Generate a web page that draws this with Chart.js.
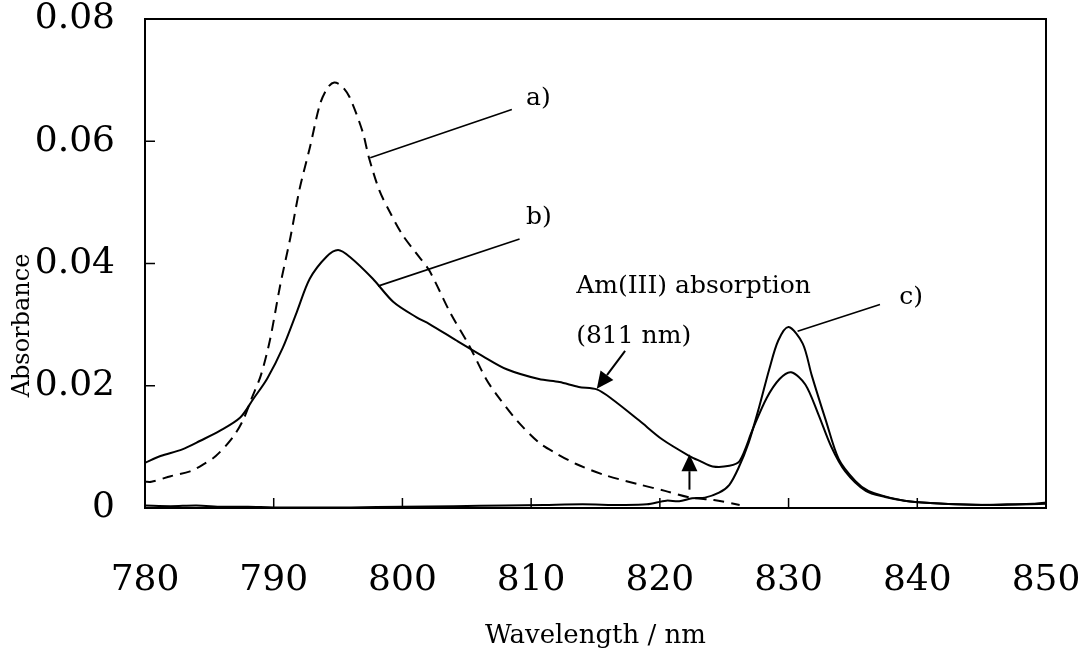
<!DOCTYPE html>
<html>
<head>
<meta charset="utf-8">
<script src="https://cdn.jsdelivr.net/npm/chart.js@4"></script>
<style>
  html, body { margin: 0; padding: 0; background: #fff; }
  #wrap { width: 1084px; height: 658px; }
</style>
</head>
<body>
<div id="wrap"><canvas id="chart" width="1084" height="658"></canvas></div>
<script>
// a) dashed spectrum
const wlA = [780, 780.5, 782, 783.5, 784.5, 785.5, 786.8, 787.6, 788.3, 789, 789.7, 790.5, 791.3, 792, 792.8, 793.6, 794.2, 794.7, 795.3, 795.9, 796.9, 797.4, 798.2, 799, 800, 801.1, 802.1, 803.7, 805.2, 806.5, 807.3, 808.9, 810.6, 811.8, 813.5, 815.7, 818.5, 820.4, 822.4, 824.2, 826.2];
const absA = [0.0043, 0.0043, 0.0052, 0.006, 0.0071, 0.0085, 0.0115, 0.0143, 0.018, 0.0217, 0.0274, 0.0364, 0.0443, 0.0521, 0.0589, 0.0661, 0.0688, 0.0696, 0.069, 0.0672, 0.0616, 0.0573, 0.052, 0.0485, 0.0447, 0.0416, 0.0388, 0.032, 0.0265, 0.0211, 0.0186, 0.0143, 0.0107, 0.0091, 0.0072, 0.0054, 0.0038, 0.0028, 0.0017, 0.0013, 0.0005];

// b) solid, broad band + 830 nm peak
const wlB = [780, 781.2, 782.9, 784.3, 785.8, 787.4, 788.4, 789.5, 790.7, 791.8, 792.8, 794.1, 795, 795.9, 797.7, 799.3, 801.1, 802.1, 804.2, 806.2, 808.1, 810.6, 812.2, 813.7, 815.1, 816.3, 818.4, 820.2, 822.3, 823.1, 824.1, 825.4, 826.2, 827.2, 828.3, 829.3, 830.2, 831.3, 832.3, 833.3, 834.4, 836, 837.5, 839, 841, 843, 846, 850];
const absB = [0.0074, 0.0085, 0.0096, 0.011, 0.0126, 0.0148, 0.0178, 0.0212, 0.0262, 0.0321, 0.0375, 0.0411, 0.0422, 0.0411, 0.0375, 0.0337, 0.0312, 0.0301, 0.0274, 0.0249, 0.0227, 0.0211, 0.0206, 0.0198, 0.0194, 0.0178, 0.0143, 0.0112, 0.0085, 0.0077, 0.0068, 0.0069, 0.0077, 0.0128, 0.018, 0.0211, 0.0222, 0.0202, 0.0154, 0.0101, 0.006, 0.0028, 0.0018, 0.0012, 0.0008, 0.0006, 0.0005, 0.0007];

// c) solid, near baseline + tall 830 nm peak
const wlC = [780, 782, 784, 786, 788, 790, 793, 796, 800, 804, 808, 811, 814, 817, 819, 820.5, 821.5, 822.5, 823.5, 824.6, 825.4, 826.1, 826.9, 827.7, 828.5, 829.2, 830, 831.1, 831.8, 832.9, 833.9, 835.2, 836.2, 837.5, 839, 841, 843, 845, 847, 849, 850];
const absC = [0.0004, 0.0003, 0.0004, 0.0002, 0.0002, 0.0001, 0.0001, 0.0001, 0.0002, 0.0003, 0.0004, 0.0005, 0.0006, 0.0005, 0.0006, 0.0012, 0.0011, 0.0016, 0.0017, 0.0025, 0.0038, 0.0065, 0.0107, 0.0164, 0.0227, 0.0274, 0.0296, 0.0269, 0.0217, 0.0143, 0.008, 0.0044, 0.0028, 0.0019, 0.0012, 0.0008, 0.0006, 0.0005, 0.0006, 0.0007, 0.0009];

const xTicks = [780, 790, 800, 810, 820, 830, 840, 850];
const yTicks = [0, 0.02, 0.04, 0.06, 0.08];

const serif = '"DejaVu Serif", serif';

function pts(xs, ys) {
  return xs.map((x, i) => ({ x: x, y: ys[i] }));
}

// labels and pointers, placed in data units
const leaders = [
  { text: 'a)', from: [797.5, 0.0573], to: [808.5, 0.0652], at: [809.6, 0.0670] },
  { text: 'b)', from: [798.1, 0.0363], to: [809.1, 0.0440], at: [809.6, 0.0475] },
  { text: 'c)', from: [830.7, 0.0289], to: [837.1, 0.0333], at: [838.6, 0.0345] }
];
const notes = [
  { text: 'Am(III) absorption', at: [813.5, 0.0362] },
  { text: '(811 nm)', at: [813.5, 0.0280] }
];
const arrows = [
  { from: [817.3, 0.0257], to: [815.1, 0.0195] },
  { from: [822.3, 0.0030], to: [822.3, 0.0088] }
];

const framePlugin = {
  id: 'frame',
  afterDatasetsDraw(chart) {
    const { ctx, chartArea: a, scales: { x, y } } = chart;
    ctx.save();
    ctx.strokeStyle = '#000';
    ctx.lineWidth = 2;
    ctx.strokeRect(a.left, a.top, a.right - a.left, a.bottom - a.top);

    // inward tick marks
    ctx.lineWidth = 1.5;
    ctx.beginPath();
    xTicks.slice(1, -1).forEach(v => {
      const px = x.getPixelForValue(v);
      ctx.moveTo(px, a.bottom);
      ctx.lineTo(px, a.bottom - 10);
    });
    yTicks.slice(1, -1).forEach(v => {
      const py = y.getPixelForValue(v);
      ctx.moveTo(a.left, py);
      ctx.lineTo(a.left + 10, py);
    });
    ctx.stroke();

    // leader lines with labels
    ctx.fillStyle = '#000';
    ctx.font = '25px ' + serif;
    ctx.textBaseline = 'middle';
    ctx.textAlign = 'left';
    ctx.lineWidth = 1.6;
    leaders.forEach(l => {
      ctx.beginPath();
      ctx.moveTo(x.getPixelForValue(l.from[0]), y.getPixelForValue(l.from[1]));
      ctx.lineTo(x.getPixelForValue(l.to[0]), y.getPixelForValue(l.to[1]));
      ctx.stroke();
      ctx.fillText(l.text, x.getPixelForValue(l.at[0]), y.getPixelForValue(l.at[1]));
    });
    notes.forEach(n => {
      ctx.fillText(n.text, x.getPixelForValue(n.at[0]), y.getPixelForValue(n.at[1]));
    });

    // arrows with filled heads
    arrows.forEach(ar => {
      const x0 = x.getPixelForValue(ar.from[0]), y0 = y.getPixelForValue(ar.from[1]);
      const x1 = x.getPixelForValue(ar.to[0]), y1 = y.getPixelForValue(ar.to[1]);
      const ang = Math.atan2(y1 - y0, x1 - x0);
      const hl = 17, hw = 8;
      const bx = x1 - hl * Math.cos(ang), by = y1 - hl * Math.sin(ang);
      ctx.lineWidth = 2;
      ctx.beginPath();
      ctx.moveTo(x0, y0);
      ctx.lineTo(bx, by);
      ctx.stroke();
      ctx.beginPath();
      ctx.moveTo(x1, y1);
      ctx.lineTo(bx + hw * Math.sin(ang), by - hw * Math.cos(ang));
      ctx.lineTo(bx - hw * Math.sin(ang), by + hw * Math.cos(ang));
      ctx.closePath();
      ctx.fill();
    });

    // axis titles
    ctx.textAlign = 'center';
    ctx.font = '26px ' + serif;
    ctx.fillText('Wavelength / nm', (a.left + a.right) / 2, 636);
    ctx.save();
    ctx.translate(23, (a.top + a.bottom) / 2 + 62);
    ctx.rotate(-Math.PI / 2);
    ctx.font = '24px ' + serif;
    ctx.fillText('Absorbance', 0, 0);
    ctx.restore();
    ctx.restore();
  }
};

new Chart(document.getElementById('chart').getContext('2d'), {
  type: 'line',
  data: {
    datasets: [
      {
        label: 'a)',
        data: pts(wlA, absA),
        borderColor: '#000',
        borderWidth: 2,
        borderDash: [11, 7],
        pointRadius: 0,
        tension: 0.3,
        fill: false
      },
      {
        label: 'b)',
        data: pts(wlB, absB),
        borderColor: '#000',
        borderWidth: 2,
        pointRadius: 0,
        tension: 0.3,
        fill: false
      },
      {
        label: 'c)',
        data: pts(wlC, absC),
        borderColor: '#000',
        borderWidth: 2,
        pointRadius: 0,
        tension: 0.3,
        fill: false
      }
    ]
  },
  options: {
    responsive: false,
    animation: false,
    layout: { padding: { top: 19, right: 38, left: 0, bottom: 0 } },
    plugins: {
      legend: { display: false },
      tooltip: { enabled: false }
    },
    scales: {
      x: {
        type: 'linear',
        min: 780,
        max: 850,
        afterFit: s => { s.height = 150; s.paddingLeft = 0; s.paddingRight = 0; },
        afterBuildTicks: s => { s.ticks = xTicks.map(v => ({ value: v })); },
        grid: { display: false },
        border: { display: false },
        ticks: {
          color: '#000',
          font: { family: serif, size: 36 },
          padding: 43,
          maxRotation: 0
        }
      },
      y: {
        min: 0,
        max: 0.08,
        afterFit: s => { s.width = 145; s.paddingTop = 0; s.paddingBottom = 0; },
        afterBuildTicks: s => { s.ticks = yTicks.map(v => ({ value: v })); },
        grid: { display: false },
        border: { display: false },
        ticks: {
          color: '#000',
          font: { family: serif, size: 36 },
          padding: 22,
          callback: v => (v === 0 ? '0' : v.toFixed(2))
        }
      }
    }
  },
  plugins: [framePlugin]
});
</script>
</body>
</html>
